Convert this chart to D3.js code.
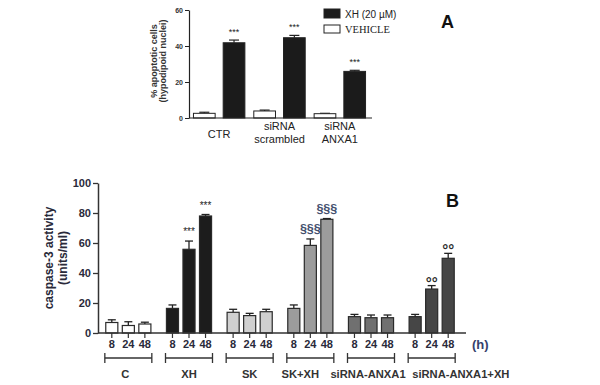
<!DOCTYPE html>
<html><head><meta charset="utf-8">
<script src="https://cdn.jsdelivr.net/npm/d3@7"></script>
<style>
html,body{margin:0;padding:0;background:#fff;}
svg{display:block;font-family:"Liberation Sans",Arial,sans-serif;}
</style></head>
<body>
<svg id="chart" width="600" height="385"></svg>
<script>
// ---------- Panel A data ----------
const aCategories = [["CTR"], ["siRNA", "scrambled"], ["siRNA", "ANXA1"]];
const aSeries = ["VEHICLE", "XH (20 µM)"];
const aVehicle = [2.6, 3.9, 2.4];
const aVehicleErr = [0.6, 0.5, 0.2];
const aXH = [41.8, 44.6, 25.9];
const aXHErr = [1.5, 1.3, 0.6];
const aSig = ["***", "***", "***"];
const aTicks = [0, 20, 40, 60];

// ---------- Panel B data ----------
const bGroups = ["C", "XH", "SK", "SK+XH", "siRNA-ANXA1", "siRNA-ANXA1+XH"];
const bTimes = ["8", "24", "48"];
const bValues = [
  [7.0, 5.0, 6.0],
  [16.4, 55.8, 78.0],
  [13.8, 11.6, 14.2],
  [16.4, 58.4, 75.8],
  [10.9, 10.2, 10.2],
  [10.9, 29.3, 49.8]
];
const bErrors = [
  [1.8, 2.5, 1.2],
  [2.3, 5.5, 1.0],
  [2.0, 1.5, 1.6],
  [2.3, 4.3, 0.5],
  [1.5, 1.8, 1.8],
  [1.5, 2.3, 3.3]
];
const bSig = [
  ["", "", ""],
  ["", "***", "***"],
  ["", "", ""],
  ["", "§§§", "§§§"],
  ["", "", ""],
  ["", "°°", "°°"]
];
const bTicks = [0, 20, 40, 60, 80, 100];

const svg = d3.select("#chart");

// ================= Panel A =================
(function(){
  const g = svg.append("g");
  const x0 = 189, x1 = 372, yTop = 10, yBot = 118;
  const y = d3.scaleLinear().domain([0, 60]).range([yBot, yTop]);
  const gx = d3.scaleBand().domain(d3.range(aCategories.length)).range([x0, x1 - 2]);
  const ix = d3.scaleBand().domain(aSeries).range([0, gx.bandwidth()]).paddingInner(0.27).paddingOuter(0.15);

  const rows = [];
  aCategories.forEach((c, i) => {
    rows.push({i, s: aSeries[0], v: aVehicle[i], e: aVehicleErr[i], fill: "#ffffff", sig: ""});
    rows.push({i, s: aSeries[1], v: aXH[i], e: aXHErr[i], fill: "#1b1b1b", sig: aSig[i]});
  });

  rows.forEach(r => {
    const cx = gx(r.i) + ix(r.s) + ix.bandwidth() / 2;
    g.append("line").attr("x1", cx).attr("x2", cx).attr("y1", y(r.v)).attr("y2", y(r.v + r.e))
      .attr("stroke", "#222").attr("stroke-width", 1.2);
    g.append("line").attr("x1", cx - 5).attr("x2", cx + 5).attr("y1", y(r.v + r.e)).attr("y2", y(r.v + r.e))
      .attr("stroke", "#222").attr("stroke-width", 1.2);
  });
  g.selectAll("rect.a").data(rows).join("rect")
    .attr("x", d => gx(d.i) + ix(d.s))
    .attr("width", ix.bandwidth())
    .attr("y", d => y(d.v))
    .attr("height", d => y(0) - y(d.v))
    .attr("fill", d => d.fill)
    .attr("stroke", "#222").attr("stroke-width", 1);
  g.selectAll("text.sig").data(rows.filter(r => r.sig)).join("text")
    .attr("x", d => gx(d.i) + ix(d.s) + ix.bandwidth() / 2)
    .attr("y", d => y(d.v + d.e) - 5)
    .attr("text-anchor", "middle").attr("font-size", 9).attr("fill", "#222")
    .text(d => d.sig);

  const ya = d3.axisLeft(y).tickValues(aTicks).tickSize(4).tickSizeOuter(0).tickPadding(2);
  const ag = g.append("g").attr("transform", `translate(${x0},0)`).call(ya);
  ag.select(".domain").attr("stroke", "#222").attr("stroke-width", 1.2);
  ag.selectAll(".tick line").attr("stroke", "#222");
  ag.selectAll(".tick text").attr("font-size", 7).attr("font-weight", "bold").attr("fill", "#333");
  g.append("line").attr("x1", x0).attr("x2", x1).attr("y1", yBot).attr("y2", yBot)
    .attr("stroke", "#222").attr("stroke-width", 1.2);

  aCategories.forEach((lines, i) => {
    const cx = gx(i) + gx.bandwidth() / 2;
    const t = g.append("text").attr("text-anchor", "middle").attr("font-size", 11).attr("fill", "#222");
    if (lines.length === 1) {
      t.append("tspan").attr("x", cx).attr("y", 138).text(lines[0]);
    } else {
      t.append("tspan").attr("x", cx).attr("y", 130).text(lines[0]);
      t.append("tspan").attr("x", cx).attr("y", 143).text(lines[1]);
    }
  });

  const yl = g.append("text").attr("transform", "translate(157,61) rotate(-90)")
    .attr("text-anchor", "middle").attr("font-size", 9).attr("font-weight", "bold").attr("fill", "#333");
  yl.append("tspan").attr("x", 0).attr("y", 0).text("% apoptotic cells");
  yl.append("tspan").attr("x", 0).attr("y", 9).text("(hypodipoid nuclei)");

  const lg = g.append("g");
  lg.append("rect").attr("x", 324).attr("y", 9).attr("width", 16).attr("height", 9)
    .attr("fill", "#1b1b1b").attr("stroke", "#222");
  lg.append("text").attr("x", 345).attr("y", 17.5).attr("font-size", 10).attr("fill", "#222").text(aSeries[1]);
  lg.append("rect").attr("x", 324).attr("y", 25).attr("width", 16).attr("height", 8)
    .attr("fill", "#fff").attr("stroke", "#222");
  lg.append("text").attr("x", 345).attr("y", 33).attr("font-size", 10.5)
    .attr("font-family", "'Liberation Serif','Times New Roman',serif").attr("fill", "#222").text(aSeries[0]);

  g.append("text").attr("x", 441).attr("y", 28).attr("font-size", 18).attr("font-weight", "bold")
    .attr("fill", "#111").text("A");
})();

// ================= Panel B =================
(function(){
  const g = svg.append("g");
  const x0 = 98, xEnd = 466, yTop = 183, yBot = 333;
  const y = d3.scaleLinear().domain([0, 100]).range([yBot, yTop]);
  const gx = d3.scaleBand().domain(bGroups).range([x0, 462]);
  const ix = d3.scaleBand().domain(bTimes).range([0, gx.bandwidth()]).paddingInner(0.27).paddingOuter(0.47);
  const fills = ["#ffffff", "#1c1c1c", "#d0d0d0", "#9c9c9c", "#707070", "#464646"];
  const sigColor = {"***": "#222", "§§§": "#44506e", "°°": "#2a2a2a"};

  const rows = [];
  bGroups.forEach((grp, gi) => bTimes.forEach((t, ti) => rows.push({
    grp, gi, t, v: bValues[gi][ti], e: bErrors[gi][ti], sig: bSig[gi][ti], fill: fills[gi]
  })));
  const cxOf = d => gx(d.grp) + ix(d.t) + ix.bandwidth() / 2;

  rows.forEach(r => {
    const cx = cxOf(r);
    g.append("line").attr("x1", cx).attr("x2", cx).attr("y1", y(r.v)).attr("y2", y(r.v + r.e))
      .attr("stroke", "#222").attr("stroke-width", 1.3);
    g.append("line").attr("x1", cx - 4).attr("x2", cx + 4).attr("y1", y(r.v + r.e)).attr("y2", y(r.v + r.e))
      .attr("stroke", "#222").attr("stroke-width", 1.3);
  });
  g.selectAll("rect.b").data(rows).join("rect")
    .attr("x", d => gx(d.grp) + ix(d.t))
    .attr("width", ix.bandwidth())
    .attr("y", d => y(d.v))
    .attr("height", d => y(0) - y(d.v))
    .attr("fill", d => d.fill)
    .attr("stroke", "#2a2a2a").attr("stroke-width", 1.2);

  g.selectAll("text.sig").data(rows.filter(r => r.sig)).join("text")
    .attr("x", cxOf)
    .attr("y", d => y(d.v + d.e) - (d.sig === "°°" ? -2 : 6))
    .attr("text-anchor", "middle")
    .attr("font-size", d => d.sig === "§§§" ? 12.5 : (d.sig === "°°" ? 15 : 10))
    .attr("font-weight", d => d.sig === "°°" || d.sig === "§§§" ? "bold" : "normal")
    .attr("fill", d => sigColor[d.sig])
    .text(d => d.sig);

  const ya = d3.axisLeft(y).tickValues(bTicks).tickSize(5).tickSizeOuter(0).tickPadding(2);
  const ag = g.append("g").attr("transform", `translate(${x0},0)`).call(ya);
  ag.select(".domain").attr("stroke", "#333").attr("stroke-width", 1.5);
  ag.selectAll(".tick line").attr("stroke", "#333").attr("stroke-width", 1.3);
  ag.selectAll(".tick text").attr("font-size", 11).attr("font-weight", "bold").attr("fill", "#2a2a3a");
  g.append("line").attr("x1", x0).attr("x2", xEnd).attr("y1", yBot).attr("y2", yBot)
    .attr("stroke", "#333").attr("stroke-width", 1.5);

  rows.forEach(r => {
    const cx = cxOf(r);
    g.append("line").attr("x1", cx).attr("x2", cx).attr("y1", yBot).attr("y2", yBot + 5)
      .attr("stroke", "#333").attr("stroke-width", 1.2);
    g.append("text").attr("x", cx).attr("y", 348).attr("text-anchor", "middle")
      .attr("font-size", 11).attr("font-weight", "bold").attr("fill", "#2a2a3a").text(r.t);
  });
  g.append("text").attr("x", 472).attr("y", 349).attr("font-size", 13).attr("font-weight", "bold")
    .attr("fill", "#34406c").text("(h)");

  bGroups.forEach((grp, gi) => {
    const cx = gx(grp) + gx.bandwidth() / 2;
    const l = cx - 23.5, r = cx + 23.5;
    g.append("line").attr("x1", l).attr("x2", r).attr("y1", 358).attr("y2", 358).attr("stroke", "#333").attr("stroke-width", 1.3);
    g.append("line").attr("x1", l).attr("x2", l).attr("y1", 353).attr("y2", 363).attr("stroke", "#333").attr("stroke-width", 1.3);
    g.append("line").attr("x1", r).attr("x2", r).attr("y1", 353).attr("y2", 363).attr("stroke", "#333").attr("stroke-width", 1.3);
    const last = gi === bGroups.length - 1;
    const shift = grp === "SK+XH" ? -10 : (grp === "C" ? -3 : (grp === "siRNA-ANXA1" ? -3 : 0));
    g.append("text")
      .attr("x", last ? l + 4 : cx + shift)
      .attr("y", 378)
      .attr("text-anchor", last ? "start" : "middle")
      .attr("font-size", 11.2).attr("font-weight", "bold").attr("fill", "#333")
      .text(grp);
  });

  const yl = g.append("text").attr("transform", "translate(53,258) rotate(-90)")
    .attr("text-anchor", "middle").attr("font-size", 12).attr("font-weight", "bold").attr("fill", "#2a2a3a");
  yl.append("tspan").attr("x", 0).attr("y", 0).text("caspase-3 activity");
  yl.append("tspan").attr("x", 0).attr("y", 14).text("(units/ml)");

  g.append("text").attr("x", 446).attr("y", 207).attr("font-size", 18).attr("font-weight", "bold")
    .attr("fill", "#111").text("B");
})();
</script>
</body></html>
